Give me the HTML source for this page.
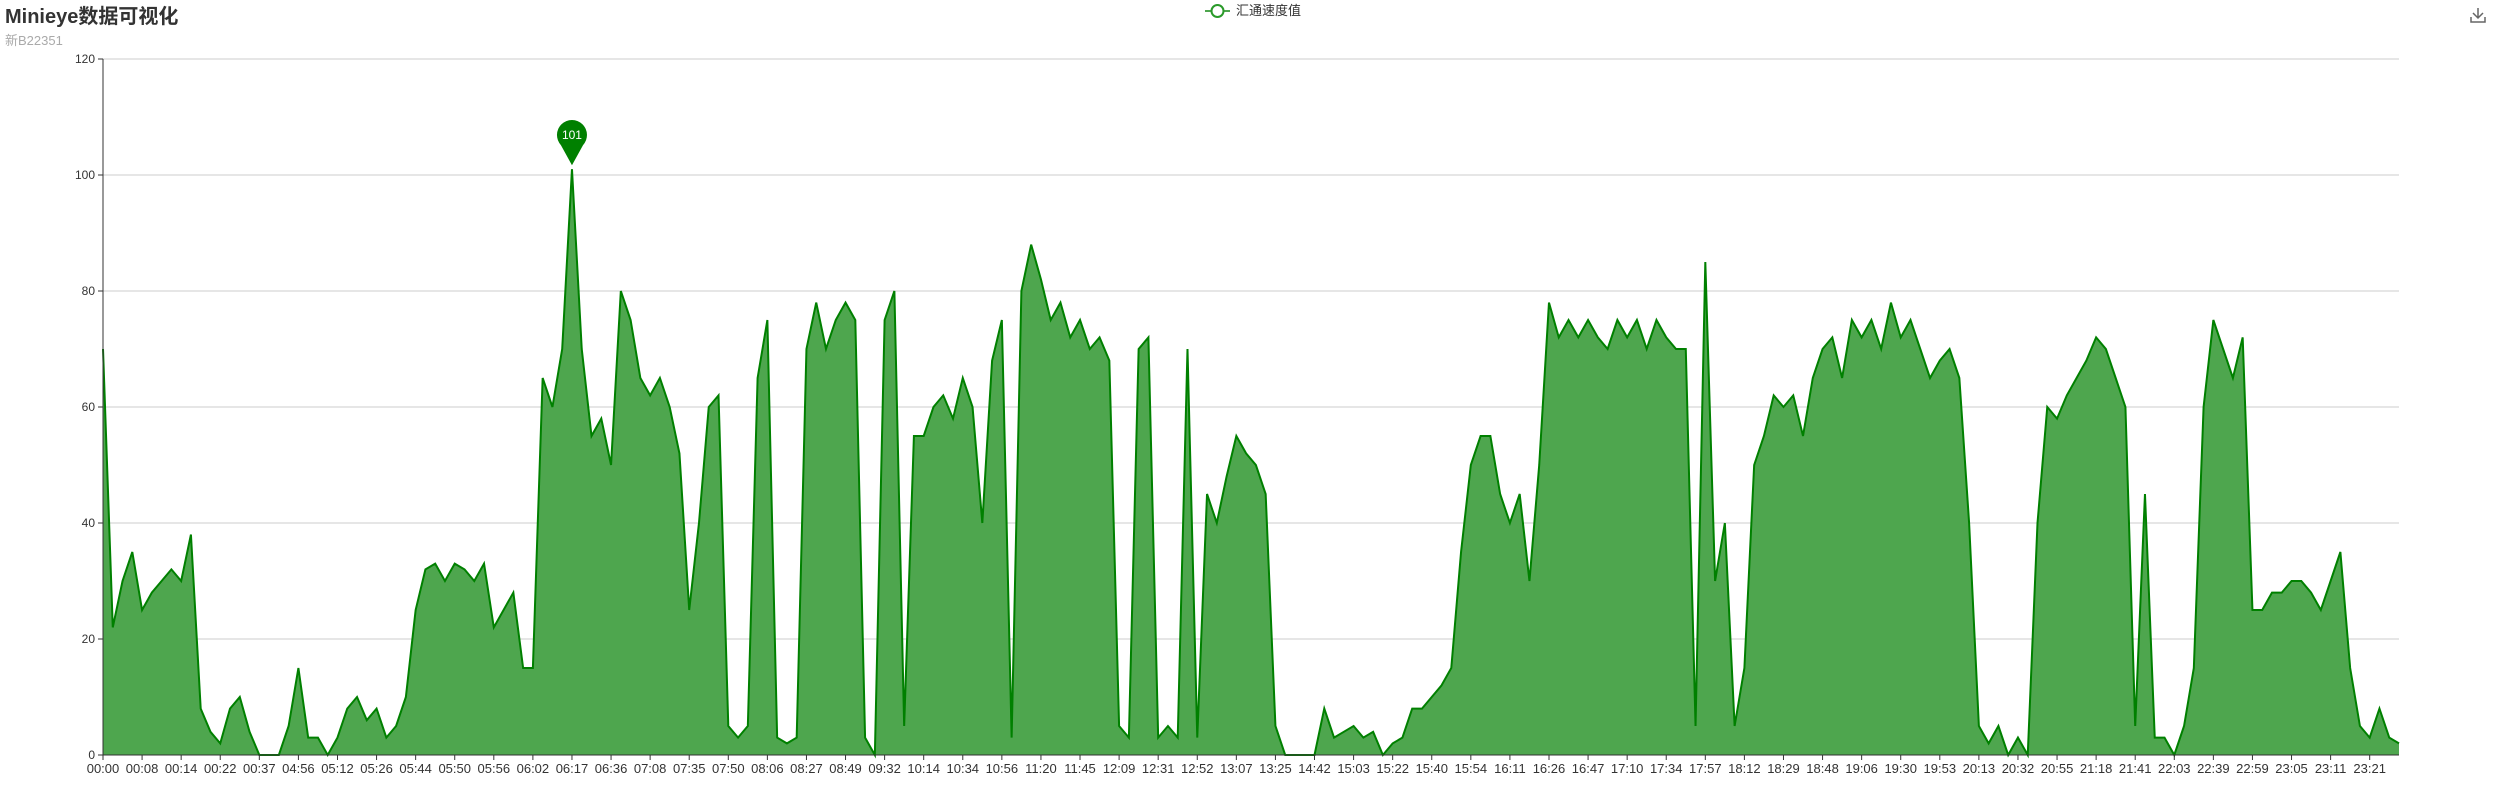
<!DOCTYPE html>
<html><head><meta charset="utf-8">
<style>
html,body{margin:0;padding:0;background:#fff;width:2500px;height:800px;overflow:hidden;font-family:"Liberation Sans","Noto Sans CJK SC",sans-serif;}
#title{position:absolute;left:5px;top:0px;font-size:20px;font-weight:bold;color:#333;}
#sub{position:absolute;left:5px;top:30px;font-size:13px;color:#aaa;}
svg{position:absolute;left:0;top:0;}
</style></head>
<body>
<div id="title">Minieye数据可视化</div>
<div id="sub">新B22351</div>
<svg id="chart" width="2500" height="800"></svg>
<script>
const tickLabels=["00:00","00:08","00:14","00:22","00:37","04:56","05:12","05:26","05:44","05:50","05:56","06:02","06:17","06:36","07:08","07:35","07:50","08:06","08:27","08:49","09:32","10:14","10:34","10:56","11:20","11:45","12:09","12:31","12:52","13:07","13:25","14:42","15:03","15:22","15:40","15:54","16:11","16:26","16:47","17:10","17:34","17:57","18:12","18:29","18:48","19:06","19:30","19:53","20:13","20:32","20:55","21:18","21:41","22:03","22:39","22:59","23:05","23:11","23:21"];
const speedValues=[70,22,30,35, 25,28,30,32, 30,38,8,4, 2,8,10,4, 0,0,0,5, 15,3,3,0, 3,8,10,6, 8,3,5,10,
25,32,33,30, 33,32,30,33, 22,25,28,15, 15,65,60,70, 101,70,55,58, 50,80,75,65, 62,65,60,52, 25,40,60,62,
5,3,5,65, 75,3,2,3, 70,78,70,75, 78,75,3,0, 75,80,5,55, 55,60,62,58, 65,60,40,68, 75,3,80,88,
82,75,78,72, 75,70,72,68, 5,3,70,72, 3,5,3,70, 3,45,40,48, 55,52,50,45, 5,0,0,0, 0,8,3,4,
5,3,4,0, 2,3,8,8, 10,12,15,35, 50,55,55,45, 40,45,30,50, 78,72,75,72, 75,72,70,75, 72,75,70,75,
72,70,70,5, 85,30,40,5, 15,50,55,62, 60,62,55,65, 70,72,65,75, 72,75,70,78, 72,75,70,65, 68,70,65,40,
5,2,5,0, 3,0,40,60, 58,62,65,68, 72,70,65,60, 5,45,3,3, 0,5,15,60, 75,70,65,72, 25,25,28,28,
30,30,28,25, 30,35,15,5, 3,8,3,2];
const yTicks=[0,20,40,60,80,100,120];
const pointsPerLabel=4;

const svg=document.getElementById('chart');
const NS='http://www.w3.org/2000/svg';
const L=103,R=2399,T=59,B=755,YMAX=120;
const n=speedValues.length;
function xs(i){return L+(R-L)*i/(n-1);}
function ys(v){return B-(B-T)*v/YMAX;}
function mk(tag,attrs){const e=document.createElementNS(NS,tag);for(const k in attrs)e.setAttribute(k,attrs[k]);svg.appendChild(e);return e;}

yTicks.forEach(t=>{
  const g=mk('line',{x1:L,x2:R,y1:ys(t),y2:ys(t),stroke:'#ccc','stroke-width':1});
  
  
  const tk=mk('line',{x1:L-5,x2:L,y1:ys(t),y2:ys(t),stroke:'#333'});
  
  
  const tx=mk('text',{x:L-8,y:ys(t)+4,'text-anchor':'end','font-size':12,fill:'#333'});
  tx.textContent=t;
  
  
});

let d='M'+xs(0)+','+ys(0);
speedValues.forEach((v,i)=>{d+=' L'+xs(i)+','+ys(v);});
d+=' L'+xs(n-1)+','+ys(0)+' Z';
const area=mk('path',{d:d,fill:'rgb(78,166,78)',stroke:'none'});


let ld='';
speedValues.forEach((v,i)=>{ld+=(i?' L':'M')+xs(i)+','+ys(v);});
const line=mk('path',{d:ld,fill:'none',stroke:'#008000','stroke-width':2});



const ya=mk('line',{x1:L,x2:L,y1:T,y2:B,stroke:'#333'});


const xa=mk('line',{x1:L,x2:R,y1:B,y2:B,stroke:'#333'});



tickLabels.forEach((lab,j)=>{
  const x=xs(j*pointsPerLabel);
  const tk=mk('line',{x1:x,x2:x,y1:B,y2:B+5,stroke:'#333'});
  
  
  const tx=mk('text',{x:x,y:B+18,'text-anchor':'middle','font-size':13,fill:'#333'});
  tx.textContent=lab;
  
  
});

// max marker
let mi=0;speedValues.forEach((v,i)=>{if(v>speedValues[mi])mi=i;});
const mx=xs(mi),my=ys(speedValues[mi]);
const pin=mk('path',{d:`M${mx},${my-4} L${mx-11},${my-24} A15,15 0 1 1 ${mx+11},${my-24} Z`,fill:'#008000'});


const pt=mk('text',{x:mx,y:my-30,'text-anchor':'middle','font-size':12,fill:'#fff'});
pt.textContent=speedValues[mi];



// legend
const lg=mk('line',{x1:1205,x2:1230,y1:11,y2:11,stroke:'#4ea64e','stroke-width':2});


const lc=mk('circle',{cx:1217.5,cy:11,r:6,fill:'#fff',stroke:'#2a9a2a','stroke-width':2});


const lt=mk('text',{x:1236,y:15,'font-size':13,fill:'#333'});
lt.textContent='汇通速度值';



// download icon
const di=mk('path',{d:'M2478,8 L2478,18 M2473,13 L2478,18 L2483,13 M2471,17 L2471,22 L2485,22 L2485,17',fill:'none',stroke:'#666','stroke-width':1.5});


</script>
</body></html>
